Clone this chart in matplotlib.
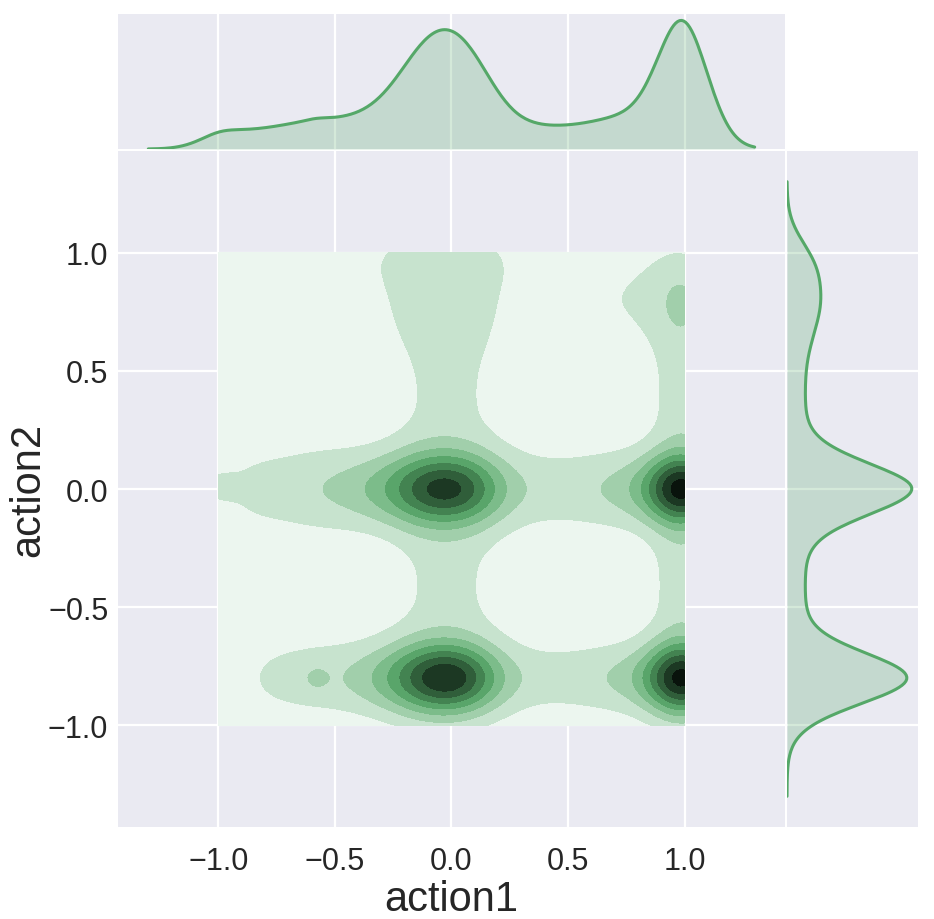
import math
import colorsys
import numpy as np
import matplotlib
matplotlib.use("Agg")
import matplotlib.pyplot as plt
from matplotlib.colors import LinearSegmentedColormap, to_rgb
from matplotlib.ticker import MaxNLocator
import seaborn as sns

# ---- data: mixture (action1 = x, action2 = y) ----
# compact clusters (gaussian): centre, spread, weight
peak_x = [0.0, -0.2, 0.0, -0.2, 1.0, 1.0, 0.8, 0.8, 1.0, -0.58, -1.0]
peak_y = [0.0, 0.0, -0.8, -0.8, 0.0, -0.8, 0.0, -0.8, 0.78, -0.8, 0.01]
peak_sx = [0.15, 0.20, 0.14, 0.16, 0.11, 0.11, 0.15, 0.15, 0.05, 0.04, 0.06]
peak_sy = [0.10, 0.11, 0.10, 0.11, 0.097, 0.10, 0.10, 0.10, 0.06, 0.04, 0.04]
peak_w = [0.035, 0.025, 0.040, 0.020, 0.040, 0.041, 0.008, 0.007, 0.0008, 0.0006, 0.0014]
# spread bands (uniform boxes, smoothed by the kde bandwidth)
band_x0 = [-0.92, -0.85, -0.20, 0.99, -1.0, -0.3, 0.6, -1.0, -1.0, -0.65, -0.4]
band_x1 = [1.0, 1.0, 0.16, 1.0, 1.0, 0.15, 1.0, 1.0, -0.99, -0.5, 0.3]
band_y0 = [-0.12, -0.88, -1.0, -1.0, -1.0, 0.6, 0.65, 0.65, -1.0, -1.0, 1.0]
band_y1 = [0.12, -0.72, 1.0, 1.0, 1.0, 1.0, 0.95, 1.0, 1.0, 1.0, 1.0]
band_w = [0.080, 0.066, 0.085, 0.072, 0.06, 0.006, 0.008, 0.022, 0.012, 0.007, 0.010]
bandwidth = 0.1
data_range = (-1.0, 1.0)
cut = 3

xlabel = "action1"
ylabel = "action2"
ticks = [-1.0, -0.5, 0.0, 0.5, 1.0]
color = "#55A868"

# ---- helpers ----
_erf = np.vectorize(math.erf)


def Phi(z):
    return 0.5 * (1.0 + _erf(z / math.sqrt(2.0)))


def gauss(t, m, s):
    return np.exp(-0.5 * ((t - m) / s) ** 2) / (s * math.sqrt(2 * math.pi))


def box(t, lo, hi, h):
    if hi - lo < 1e-9:
        return gauss(t, lo, h)
    return (Phi((t - lo) / h) - Phi((t - hi) / h)) / (hi - lo)


def profiles(t_x, t_y):
    comps = []
    for mx, my, sx, sy, w in zip(peak_x, peak_y, peak_sx, peak_sy, peak_w):
        comps.append((w, gauss(t_x, mx, sx), gauss(t_y, my, sy)))
    for x0, x1, y0, y1, w in zip(band_x0, band_x1, band_y0, band_y1, band_w):
        comps.append((w, box(t_x, x0, x1, bandwidth), box(t_y, y0, y1, bandwidth)))
    return comps


# 2D grid clipped to data range
gx = np.linspace(data_range[0], data_range[1], 120)
gy = np.linspace(data_range[0], data_range[1], 120)
Z = np.zeros((gy.size, gx.size))
for w, fx, fy in profiles(gx, gy):
    Z += w * np.outer(fy, fx)

# marginals with cut
lo = data_range[0] - cut * bandwidth
hi = data_range[1] + cut * bandwidth
mxg = np.linspace(lo, hi, 300)
myg = np.linspace(lo, hi, 300)
dens_x = np.zeros_like(mxg)
dens_y = np.zeros_like(myg)
for w, fx, fy in profiles(mxg, myg):
    dens_x += w * fx
    dens_y += w * fy

# ---- style ----
sns.set_style("darkgrid")
plt.rcParams["font.family"] = ["Liberation Sans", "DejaVu Sans"]
plt.rcParams["axes.unicode_minus"] = True

rgb = to_rgb(color)
h_, l_, s_ = colorsys.rgb_to_hls(*rgb)
cols = [colorsys.hls_to_rgb(h_, l, s_) for l in np.linspace(1, 0, 12)]
cmap = LinearSegmentedColormap.from_list("blend", cols)

W, H = 934, 920
fig = plt.figure(figsize=(W / 100, H / 100), dpi=100)
ax = fig.add_axes([118 / W, 1 - 828 / H, (785 - 118) / W, (828 - 152) / H])
axx = fig.add_axes([118 / W, 1 - 150 / H, (785 - 118) / W, (150 - 15) / H], sharex=ax)
axy = fig.add_axes([787 / W, 1 - 828 / H, (918 - 787) / W, (828 - 152) / H], sharey=ax)

for a in (ax, axx, axy):
    a.set_facecolor("#EAEAF2")
    a.set_axisbelow(True)
    for sp in a.spines.values():
        sp.set_visible(False)
    a.grid(True, color="white", linewidth=1.6)
    a.tick_params(length=0)

levels = MaxNLocator(11, steps=[1, 2, 2.5, 5, 10]).tick_values(Z.min(), Z.max())
ax.contourf(gx, gy, Z, levels=levels, cmap=cmap)

axx.fill_between(mxg, 0, dens_x, color=color, alpha=0.25, linewidth=0)
axx.plot(mxg, dens_x, color=color, linewidth=2.2)
axx.set_ylim(0, dens_x.max() * 1.05)
axx.yaxis.grid(False)
axx.tick_params(labelbottom=False, labelleft=False)

axy.fill_betweenx(myg, 0, dens_y, color=color, alpha=0.25, linewidth=0)
axy.plot(dens_y, myg, color=color, linewidth=2.2)
axy.set_xlim(0, dens_y.max() * 1.05)
axy.xaxis.grid(False)
axy.tick_params(labelbottom=False, labelleft=False)

ax.set_xticks(ticks)
ax.set_yticks(ticks)
ax.tick_params(axis="x", labelsize=22, pad=14, colors="#262626")
ax.tick_params(axis="y", labelsize=22, pad=7, colors="#262626")
ax.set_xlabel(xlabel, fontsize=30, color="#262626", labelpad=2)
ax.set_ylabel(ylabel, fontsize=30, color="#262626", labelpad=0)

fig.savefig("out.png", dpi=100, facecolor="white")
